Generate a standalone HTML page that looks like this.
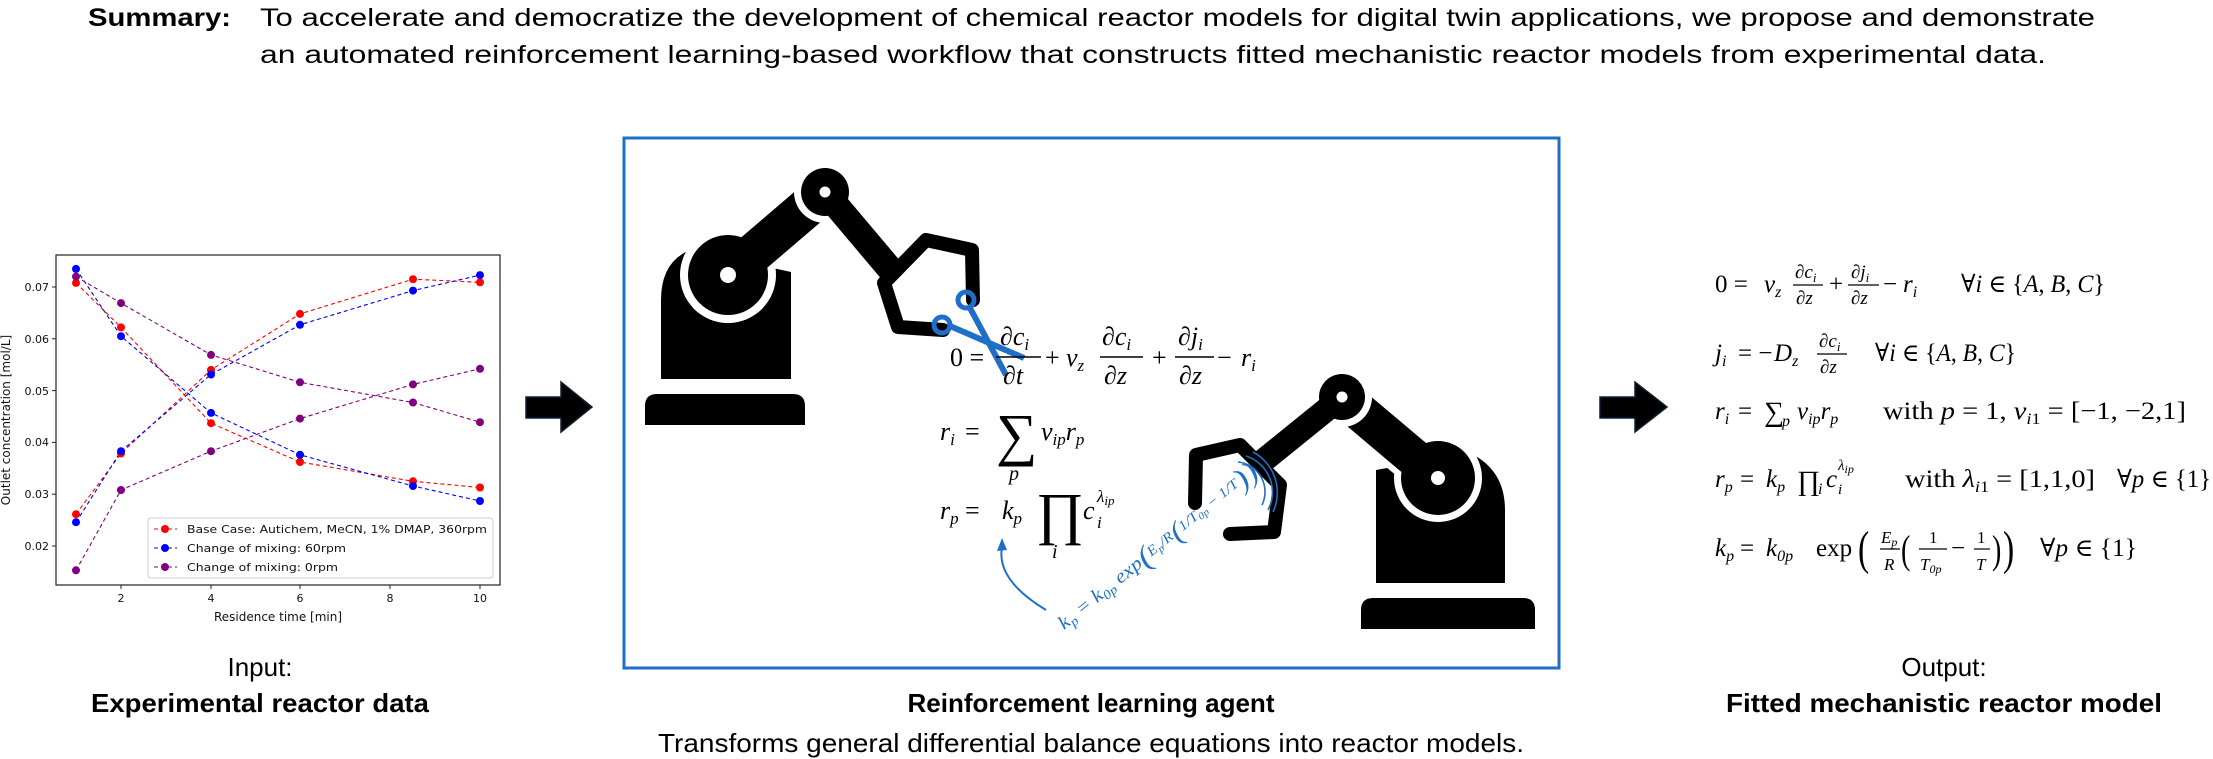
<!DOCTYPE html>
<html><head><meta charset="utf-8"><style>
html,body{margin:0;padding:0;background:#fff;}
svg{display:block;}
.nar{font-family:"Liberation Sans Narrow","Liberation Sans",sans-serif;}
.m{font-family:"Liberation Serif","DejaVu Serif",serif;font-style:italic;}
.n{font-family:"Liberation Serif","DejaVu Serif",serif;font-style:normal;}
.ax{font-family:"DejaVu Sans","Liberation Sans",sans-serif;font-size:11px;fill:#111;}
</style></head><body>
<svg width="2213" height="759" viewBox="0 0 2213 759" xmlns="http://www.w3.org/2000/svg">
<rect width="2213" height="759" fill="#fff"/>

<!-- Summary -->
<text class="nar" x="88" y="26" font-size="25" font-weight="bold" textLength="143" lengthAdjust="spacingAndGlyphs">Summary:</text>
<text class="nar" x="260" y="26" font-size="25" textLength="1835" lengthAdjust="spacingAndGlyphs">To accelerate and democratize the development of chemical reactor models for digital twin applications, we propose and demonstrate</text>
<text class="nar" x="260" y="63" font-size="25" textLength="1786" lengthAdjust="spacingAndGlyphs">an automated reinforcement learning-based workflow that constructs fitted mechanistic reactor models from experimental data.</text>

<!-- Chart -->
<rect x="56" y="255" width="444" height="330" fill="#fff" stroke="#222" stroke-width="1.2"/>
<g stroke="#222" stroke-width="1">
<line x1="52" y1="287" x2="56" y2="287"/><line x1="52" y1="338.8" x2="56" y2="338.8"/><line x1="52" y1="390.6" x2="56" y2="390.6"/><line x1="52" y1="442.4" x2="56" y2="442.4"/><line x1="52" y1="494.2" x2="56" y2="494.2"/><line x1="52" y1="546" x2="56" y2="546"/>
<line x1="121" y1="585" x2="121" y2="589"/><line x1="211" y1="585" x2="211" y2="589"/><line x1="300" y1="585" x2="300" y2="589"/><line x1="390" y1="585" x2="390" y2="589"/><line x1="480" y1="585" x2="480" y2="589"/>
</g>
<g class="ax" text-anchor="end">
<text x="49" y="291">0.07</text><text x="49" y="343">0.06</text><text x="49" y="395">0.05</text><text x="49" y="446">0.04</text><text x="49" y="498">0.03</text><text x="49" y="550">0.02</text>
</g>
<g class="ax" text-anchor="middle">
<text x="121" y="602">2</text><text x="211" y="602">4</text><text x="300" y="602">6</text><text x="390" y="602">8</text><text x="480" y="602">10</text>
<text x="278" y="621" font-size="12">Residence time [min]</text>
<text transform="translate(10,420) rotate(-90)" font-size="12">Outlet concentration [mol/L]</text>
</g>
<g fill="none" stroke-width="1.1" stroke-dasharray="4,3">
<polyline stroke="#ff0000" points="76,282.9 121,327.4 211,423.2 300,462 413,481.3 480,487.5"/>
<polyline stroke="#ff0000" points="76,514.2 121,453.5 211,369.9 300,313.9 413,279.2 480,282.3"/>
<polyline stroke="#0000ff" points="76,268.9 121,336.2 211,412.9 300,454.8 413,486 480,501"/>
<polyline stroke="#0000ff" points="76,522.2 121,451.2 211,374.5 300,324.8 413,290.6 480,275.1"/>
<polyline stroke="#800080" points="76,276.6 121,303.1 211,354.9 300,382.3 413,402.5 480,422.2"/>
<polyline stroke="#800080" points="76,570.3 121,490 211,451.2 300,418.6 413,384.4 480,368.8"/>
</g>
<g fill="#ff0000">
<circle cx="76" cy="282.9" r="4"/><circle cx="121" cy="327.4" r="4"/><circle cx="211" cy="423.2" r="4"/><circle cx="300" cy="462" r="4"/><circle cx="413" cy="481.3" r="4"/><circle cx="480" cy="487.5" r="4"/>
<circle cx="76" cy="514.2" r="4"/><circle cx="121" cy="453.5" r="4"/><circle cx="211" cy="369.9" r="4"/><circle cx="300" cy="313.9" r="4"/><circle cx="413" cy="279.2" r="4"/><circle cx="480" cy="282.3" r="4"/>
</g>
<g fill="#0000ff">
<circle cx="76" cy="268.9" r="4"/><circle cx="121" cy="336.2" r="4"/><circle cx="211" cy="412.9" r="4"/><circle cx="300" cy="454.8" r="4"/><circle cx="413" cy="486" r="4"/><circle cx="480" cy="501" r="4"/>
<circle cx="76" cy="522.2" r="4"/><circle cx="121" cy="451.2" r="4"/><circle cx="211" cy="374.5" r="4"/><circle cx="300" cy="324.8" r="4"/><circle cx="413" cy="290.6" r="4"/><circle cx="480" cy="275.1" r="4"/>
</g>
<g fill="#800080">
<circle cx="76" cy="276.6" r="4"/><circle cx="121" cy="303.1" r="4"/><circle cx="211" cy="354.9" r="4"/><circle cx="300" cy="382.3" r="4"/><circle cx="413" cy="402.5" r="4"/><circle cx="480" cy="422.2" r="4"/>
<circle cx="76" cy="570.3" r="4"/><circle cx="121" cy="490" r="4"/><circle cx="211" cy="451.2" r="4"/><circle cx="300" cy="418.6" r="4"/><circle cx="413" cy="384.4" r="4"/><circle cx="480" cy="368.8" r="4"/>
</g>
<rect x="148" y="518" width="345" height="60" rx="3" fill="#fff" fill-opacity="0.85" stroke="#ccc" stroke-width="1"/>
<g stroke-width="1.1" stroke-dasharray="4,3">
<line x1="154" y1="529" x2="177" y2="529" stroke="#ff0000"/>
<line x1="154" y1="548" x2="177" y2="548" stroke="#0000ff"/>
<line x1="154" y1="567" x2="177" y2="567" stroke="#800080"/>
</g>
<circle cx="165" cy="529" r="4" fill="#ff0000"/><circle cx="165" cy="548" r="4" fill="#0000ff"/><circle cx="165" cy="567" r="4" fill="#800080"/>
<g class="ax" font-size="11.5">
<text x="187" y="533" textLength="300" lengthAdjust="spacingAndGlyphs">Base Case: Autichem, MeCN, 1% DMAP, 360rpm</text>
<text x="187" y="552" textLength="159" lengthAdjust="spacingAndGlyphs">Change of mixing: 60rpm</text>
<text x="187" y="571" textLength="151" lengthAdjust="spacingAndGlyphs">Change of mixing: 0rpm</text>
</g>

<!-- Arrows -->
<polygon points="526,397 561,397 561,382 592,407 561,432 561,418 526,418" fill="#000" stroke="#0c2030" stroke-width="1.5"/>
<polygon points="1600,397 1635,397 1635,382 1667,407 1635,432 1635,418 1600,418" fill="#000" stroke="#0c2030" stroke-width="1.5"/>

<!-- Central box -->
<rect x="624" y="138" width="935" height="530" fill="none" stroke="#1f6fc8" stroke-width="3"/>

<!-- Left robot -->
<g fill="#000">
<path d="M645,425 L645,406 Q645,394 657,394 L793,394 Q805,394 805,406 L805,425 Z"/>
<path d="M661,379 L661,300 Q661,262 690,250 L791,272 L791,379 Z"/>
</g>
<circle cx="728" cy="275" r="48" fill="#fff"/>
<line x1="728" y1="275" x2="825" y2="192" stroke="#fff" stroke-width="52"/>
<circle cx="728" cy="275" r="40" fill="#000"/>
<line x1="728" y1="275" x2="825" y2="192" stroke="#000" stroke-width="40"/>
<circle cx="825" cy="192" r="31" fill="#fff"/>
<line x1="825" y1="192" x2="895" y2="275" stroke="#000" stroke-width="26"/>
<circle cx="825" cy="192" r="24" fill="#000"/>
<circle cx="825" cy="192" r="5.5" fill="#fff"/>
<circle cx="728" cy="275" r="8" fill="#fff"/>
<polyline points="973,300 972,250 926,240 884,283 898,327 943,330" fill="none" stroke="#000" stroke-width="14" stroke-linejoin="round" stroke-linecap="round"/>
<!-- scissors -->
<g stroke="#1f6fc8" fill="none">
<circle cx="966" cy="300" r="8" stroke-width="5"/>
<circle cx="942" cy="325" r="8" stroke-width="5"/>
<line x1="970" y1="308" x2="1006" y2="375" stroke-width="6"/>
<line x1="950" y1="326" x2="1024" y2="358" stroke-width="6"/>
</g>
<circle cx="975" cy="330" r="2.5" fill="#fff"/>

<!-- Right robot -->
<g fill="#000">
<path d="M1361,629 L1361,610 Q1361,598 1373,598 L1523,598 Q1535,598 1535,610 L1535,629 Z"/>
<path d="M1376,583 L1376,470 L1470,453 Q1505,470 1505,510 L1505,583 Z"/>
</g>
<circle cx="1438" cy="478" r="44" fill="#fff"/>
<line x1="1438" y1="478" x2="1342" y2="397" stroke="#fff" stroke-width="50"/>
<circle cx="1438" cy="478" r="37" fill="#000"/>
<line x1="1438" y1="478" x2="1342" y2="397" stroke="#000" stroke-width="38"/>
<circle cx="1342" cy="397" r="30" fill="#fff"/>
<line x1="1342" y1="397" x2="1258" y2="465" stroke="#000" stroke-width="24"/>
<circle cx="1342" cy="397" r="23" fill="#000"/>
<circle cx="1342" cy="397" r="5.5" fill="#fff"/>
<circle cx="1438" cy="478" r="7" fill="#fff"/>
<polyline points="1195,503 1196,455 1240,445 1280,485 1274,532 1230,534" fill="none" stroke="#000" stroke-width="14" stroke-linejoin="round" stroke-linecap="round"/>
<g fill="none" stroke="#1f6fc8" stroke-width="1.6">
<path d="M1238,462 A30,30 0 0 1 1262,505"/>
<path d="M1246,456 A38,38 0 0 1 1268,510"/>
<path d="M1253,452 A46,46 0 0 1 1273,512"/>
</g>

<!-- Box equations -->
<g class="m" font-size="26" fill="#000">
<text class="n" x="950" y="366">0 =</text>
<text x="1000" y="345">∂c<tspan font-size="17" dy="5">i</tspan></text>
<line x1="996" y1="357" x2="1041" y2="357" stroke="#000" stroke-width="1.6"/>
<text x="1003" y="384">∂t</text>
<text class="n" x="1045" y="366">+</text>
<text x="1066" y="366">v<tspan font-size="17" dy="5">z</tspan></text>
<text x="1102" y="345">∂c<tspan font-size="17" dy="5">i</tspan></text>
<line x1="1100" y1="357" x2="1143" y2="357" stroke="#000" stroke-width="1.6"/>
<text x="1104" y="384">∂z</text>
<text class="n" x="1152" y="366">+</text>
<text x="1178" y="345">∂j<tspan font-size="17" dy="5">i</tspan></text>
<line x1="1175" y1="357" x2="1214" y2="357" stroke="#000" stroke-width="1.6"/>
<text x="1179" y="384">∂z</text>
<text class="n" x="1217" y="366">−</text>
<text x="1241" y="366">r<tspan font-size="17" dy="5">i</tspan></text>

<text x="940" y="440">r<tspan font-size="17" dy="5">i</tspan></text>
<text class="n" x="965" y="440">=</text>
<text class="n" x="996" y="454" font-size="58">∑</text>
<text x="1009" y="480" font-size="20">p</text>
<text x="1041" y="440">v<tspan font-size="17" dy="5">ip</tspan><tspan dy="-5">r</tspan><tspan font-size="17" dy="5">p</tspan></text>

<text x="940" y="519">r<tspan font-size="17" dy="5">p</tspan></text>
<text class="n" x="965" y="519">=</text>
<text x="1002" y="519">k<tspan font-size="17" dy="5">p</tspan></text>
<text class="n" x="1036" y="533" font-size="58">∏</text>
<text x="1052" y="558" font-size="20">i</text>
<text x="1083" y="519">c</text>
<text x="1097" y="528" font-size="17">i</text>
<text x="1097" y="502" font-size="17">λ<tspan font-size="13" dy="3">ip</tspan></text>
</g>
<!-- blue annotation -->
<g fill="#1f6fc8">
<text class="m" font-size="19" transform="translate(1064,630) rotate(-39)" textLength="250" lengthAdjust="spacingAndGlyphs">k<tspan font-size="13" dy="4">p</tspan><tspan dy="-4"> = k</tspan><tspan font-size="13" dy="4">0p</tspan><tspan dy="-4"> exp</tspan><tspan font-size="30" dy="4">(</tspan><tspan font-size="14" dy="-6">E</tspan><tspan font-size="10" dy="3">p</tspan><tspan font-size="14" dy="-3">/R</tspan><tspan font-size="28" dy="6">(</tspan><tspan font-size="14" dy="-6">1/T</tspan><tspan font-size="10" dy="3">0p</tspan><tspan font-size="14" dy="-3"> − 1/T</tspan><tspan font-size="30" dy="6">))</tspan></text>
</g>
<path d="M1046,610 Q996,580 1002,547" fill="none" stroke="#1f6fc8" stroke-width="2"/>
<polygon points="1002,538 997,551 1007,550" fill="#1f6fc8"/>

<!-- Right equations -->
<g class="m" font-size="25" fill="#000">
<text class="n" x="1715" y="292">0 =</text>
<text x="1764" y="292">v<tspan font-size="16" dy="5">z</tspan></text>
<text x="1795" y="278" font-size="19">∂c<tspan font-size="13" dy="4">i</tspan></text>
<line x1="1793" y1="285" x2="1823" y2="285" stroke="#000" stroke-width="1.3"/>
<text x="1796" y="304" font-size="19">∂z</text>
<text class="n" x="1829" y="292">+</text>
<text x="1851" y="278" font-size="19">∂j<tspan font-size="13" dy="4">i</tspan></text>
<line x1="1848" y1="285" x2="1879" y2="285" stroke="#000" stroke-width="1.3"/>
<text x="1851" y="304" font-size="19">∂z</text>
<text class="n" x="1883" y="292">−</text>
<text x="1903" y="292">r<tspan font-size="16" dy="5">i</tspan></text>
<text x="1961" y="292" textLength="144" lengthAdjust="spacingAndGlyphs">∀i <tspan class="n">∈ {</tspan>A<tspan class="n">, </tspan>B<tspan class="n">, </tspan>C<tspan class="n">}</tspan></text>

<text x="1715" y="361">j<tspan font-size="16" dy="5">i</tspan></text>
<text class="n" x="1738" y="361">= −</text>
<text x="1774" y="361">D<tspan font-size="16" dy="5">z</tspan></text>
<text x="1819" y="347" font-size="19">∂c<tspan font-size="13" dy="4">i</tspan></text>
<line x1="1817" y1="354" x2="1847" y2="354" stroke="#000" stroke-width="1.3"/>
<text x="1820" y="373" font-size="19">∂z</text>
<text x="1875" y="361" textLength="141" lengthAdjust="spacingAndGlyphs">∀i <tspan class="n">∈ {</tspan>A<tspan class="n">, </tspan>B<tspan class="n">, </tspan>C<tspan class="n">}</tspan></text>

<text x="1715" y="419">r<tspan font-size="16" dy="5">i</tspan></text>
<text class="n" x="1738" y="419">=</text>
<text class="n" x="1764" y="421" font-size="28">∑</text>
<text x="1782" y="426" font-size="16">p</text>
<text x="1797" y="419">v<tspan font-size="16" dy="5">ip</tspan><tspan dy="-5">r</tspan><tspan font-size="16" dy="5">p</tspan></text>
<text class="n" x="1883" y="419" textLength="303" lengthAdjust="spacingAndGlyphs">with <tspan class="m">p</tspan> = 1, <tspan class="m">v</tspan><tspan font-size="16" dy="5" class="m">i</tspan><tspan font-size="16">1</tspan><tspan dy="-5"> = [−1, −2,1]</tspan></text>

<text x="1715" y="487">r<tspan font-size="16" dy="5">p</tspan></text>
<text class="n" x="1740" y="487">=</text>
<text x="1766" y="487">k<tspan font-size="16" dy="5">p</tspan></text>
<text class="n" x="1797" y="490" font-size="28">∏</text>
<text x="1818" y="494" font-size="16">i</text>
<text x="1826" y="487">c</text>
<text x="1838" y="494" font-size="15">i</text>
<text x="1838" y="470" font-size="15">λ<tspan font-size="12" dy="3">ip</tspan></text>
<text class="n" x="1905" y="487" textLength="190" lengthAdjust="spacingAndGlyphs">with <tspan class="m">λ</tspan><tspan font-size="16" dy="5" class="m">i</tspan><tspan font-size="16">1</tspan><tspan dy="-5"> = [1,1,0]</tspan></text>
<text x="2117" y="487" textLength="94" lengthAdjust="spacingAndGlyphs">∀p <tspan class="n">∈ {1}</tspan></text>

<text x="1715" y="556">k<tspan font-size="16" dy="5">p</tspan></text>
<text class="n" x="1740" y="556">=</text>
<text x="1766" y="556">k<tspan font-size="16" dy="5">0p</tspan></text>
<text class="n" x="1816" y="556">exp</text>
<text class="n" x="1858" y="564" font-size="48" transform="translate(1858,564) scale(0.7,1) translate(-1858,-564)">(</text>
<text x="1881" y="543" font-size="17">E<tspan font-size="12" dy="3">p</tspan></text>
<line x1="1880" y1="549" x2="1900" y2="549" stroke="#000" stroke-width="1.2"/>
<text x="1884" y="570" font-size="17">R</text>
<text class="n" x="1901" y="563" font-size="40" transform="translate(1901,563) scale(0.7,1) translate(-1901,-563)">(</text>
<text class="n" x="1929" y="543" font-size="17">1</text>
<line x1="1919" y1="549" x2="1947" y2="549" stroke="#000" stroke-width="1.2"/>
<text x="1920" y="570" font-size="17">T<tspan font-size="12" dy="3">0p</tspan></text>
<text class="n" x="1951" y="556">−</text>
<text class="n" x="1977" y="543" font-size="17">1</text>
<line x1="1974" y1="549" x2="1990" y2="549" stroke="#000" stroke-width="1.2"/>
<text x="1976" y="570" font-size="17">T</text>
<text class="n" x="1992" y="563" font-size="40" transform="translate(1992,563) scale(0.7,1) translate(-1992,-563)">)</text>
<text class="n" x="2003" y="564" font-size="48" transform="translate(2003,564) scale(0.7,1) translate(-2003,-564)">)</text>
<text x="2040" y="556" textLength="97" lengthAdjust="spacingAndGlyphs">∀p <tspan class="n">∈ {1}</tspan></text>
</g>

<!-- Bottom labels -->
<g class="nar" text-anchor="middle" fill="#000">
<text x="260" y="676" font-size="26">Input:</text>
<text x="260" y="712" font-size="26" font-weight="bold" textLength="338" lengthAdjust="spacingAndGlyphs">Experimental reactor data</text>
<text x="1091" y="712" font-size="26" font-weight="bold">Reinforcement learning agent</text>
<text x="1091" y="752" font-size="26" textLength="866" lengthAdjust="spacingAndGlyphs">Transforms general differential balance equations into reactor models.</text>
<text x="1944" y="676" font-size="26">Output:</text>
<text x="1944" y="712" font-size="26" font-weight="bold" textLength="436" lengthAdjust="spacingAndGlyphs">Fitted mechanistic reactor model</text>
</g>
</svg>
</body></html>
